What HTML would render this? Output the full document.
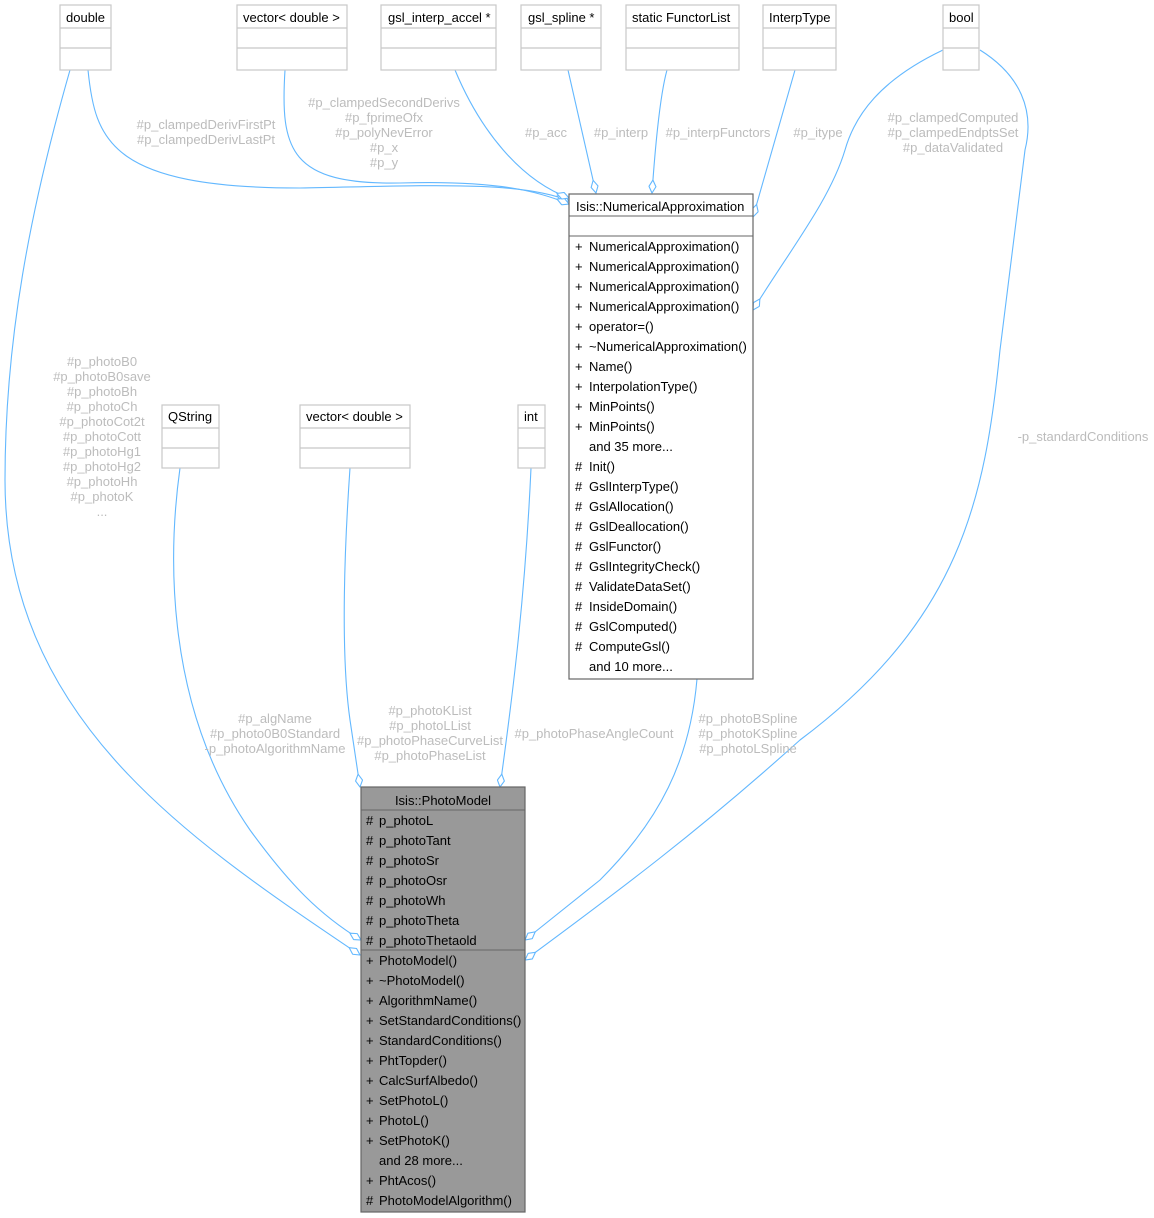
<!DOCTYPE html>
<html><head><meta charset="utf-8"><style>
html,body{margin:0;padding:0;background:#fff;}
svg{display:block;}
text{font-family:"Liberation Sans",Helvetica,sans-serif;font-size:13px;}
.n{fill:#000;}
.l{fill:#bcbcbc;text-anchor:middle;}
.e{fill:none;stroke:#63b8ff;stroke-width:1.1;}
.b{fill:#fff;stroke:#c8c8c8;stroke-width:1.2;}
</style></head><body>
<svg width="1154" height="1218" viewBox="0 0 1154 1218" xmlns="http://www.w3.org/2000/svg">
<defs>
<marker id="d" viewBox="0 0 14 8" refX="13.5" refY="4" markerWidth="14" markerHeight="8" markerUnits="userSpaceOnUse" orient="auto">
<path d="M0.5,4 L7,0.5 L13.5,4 L7,7.5 Z" fill="#fff" stroke="#63b8ff" stroke-width="1.1"/>
</marker>
</defs>

<!-- edges -->
<path class="e" marker-end="url(#d)" d="M70,70 C30,210 5,340 5,480 C5,720 190,840 360,955"/>
<path class="e" marker-end="url(#d)" d="M88,70 C95,140 110,188 300,188 C420,186 520,180 569,201"/>
<path class="e" marker-end="url(#d)" d="M285,70 C280,150 290,185 400,183 C500,180 540,192 569,204"/>
<path class="e" marker-end="url(#d)" d="M455,70 C480,130 520,180 569,198"/>
<path class="e" marker-end="url(#d)" d="M568,70 L596,193"/>
<path class="e" marker-end="url(#d)" d="M667,70 C660,95 655,150 652,193"/>
<path class="e" marker-end="url(#d)" d="M795,70 L753,217"/>
<path class="e" marker-end="url(#d)" d="M943,50 C880,80 855,115 845,150 C830,200 790,250 753,310"/>
<path class="e" marker-end="url(#d)" d="M980,50 C1020,75 1035,110 1025,150 L1000,350 C985,500 960,620 800,740 C700,830 620,890 525,960"/>
<path class="e" marker-end="url(#d)" d="M180,468 C170,540 160,700 250,830 C290,885 320,915 361,940"/>
<path class="e" marker-end="url(#d)" d="M350,468 C345,540 340,650 350,720 L360,787"/>
<path class="e" marker-end="url(#d)" d="M531,468 C525,600 512,700 500,787"/>
<path class="e" marker-end="url(#d)" d="M697,679 C690,760 660,820 600,880 L525,940"/>

<!-- edge labels -->
<text class="l" x="206" y="129">#p_clampedDerivFirstPt</text>
<text class="l" x="206" y="144">#p_clampedDerivLastPt</text>
<text class="l" x="384" y="107">#p_clampedSecondDerivs</text>
<text class="l" x="384" y="122">#p_fprimeOfx</text>
<text class="l" x="384" y="137">#p_polyNevError</text>
<text class="l" x="384" y="152">#p_x</text>
<text class="l" x="384" y="167">#p_y</text>
<text class="l" x="546" y="137">#p_acc</text>
<text class="l" x="621" y="137">#p_interp</text>
<text class="l" x="718" y="137">#p_interpFunctors</text>
<text class="l" x="818" y="137">#p_itype</text>
<text class="l" x="953" y="122">#p_clampedComputed</text>
<text class="l" x="953" y="137">#p_clampedEndptsSet</text>
<text class="l" x="953" y="152">#p_dataValidated</text>
<text class="l" x="1083" y="441">-p_standardConditions</text>
<text class="l" x="102" y="366">#p_photoB0</text>
<text class="l" x="102" y="381">#p_photoB0save</text>
<text class="l" x="102" y="396">#p_photoBh</text>
<text class="l" x="102" y="411">#p_photoCh</text>
<text class="l" x="102" y="426">#p_photoCot2t</text>
<text class="l" x="102" y="441">#p_photoCott</text>
<text class="l" x="102" y="456">#p_photoHg1</text>
<text class="l" x="102" y="471">#p_photoHg2</text>
<text class="l" x="102" y="486">#p_photoHh</text>
<text class="l" x="102" y="501">#p_photoK</text>
<text class="l" x="102" y="516">...</text>
<text class="l" x="275" y="723">#p_algName</text>
<text class="l" x="275" y="738">#p_photo0B0Standard</text>
<text class="l" x="275" y="753">-p_photoAlgorithmName</text>
<text class="l" x="430" y="715">#p_photoKList</text>
<text class="l" x="430" y="730">#p_photoLList</text>
<text class="l" x="430" y="745">#p_photoPhaseCurveList</text>
<text class="l" x="430" y="760">#p_photoPhaseList</text>
<text class="l" x="594" y="738">#p_photoPhaseAngleCount</text>
<text class="l" x="748" y="723">#p_photoBSpline</text>
<text class="l" x="748" y="738">#p_photoKSpline</text>
<text class="l" x="748" y="753">#p_photoLSpline</text>

<!-- simple nodes -->
<g>
<rect class="b" x="60" y="5" width="51" height="65"/><line class="b" x1="60" y1="28" x2="111" y2="28"/><line class="b" x1="60" y1="48" x2="111" y2="48"/><text class="n" x="66" y="22">double</text>
<rect class="b" x="237" y="5" width="110" height="65"/><line class="b" x1="237" y1="28" x2="347" y2="28"/><line class="b" x1="237" y1="48" x2="347" y2="48"/><text class="n" x="243" y="22">vector&lt; double &gt;</text>
<rect class="b" x="381" y="5" width="115" height="65"/><line class="b" x1="381" y1="28" x2="496" y2="28"/><line class="b" x1="381" y1="48" x2="496" y2="48"/><text class="n" x="388" y="22">gsl_interp_accel *</text>
<rect class="b" x="521" y="5" width="80" height="65"/><line class="b" x1="521" y1="28" x2="601" y2="28"/><line class="b" x1="521" y1="48" x2="601" y2="48"/><text class="n" x="528" y="22">gsl_spline *</text>
<rect class="b" x="626" y="5" width="113" height="65"/><line class="b" x1="626" y1="28" x2="739" y2="28"/><line class="b" x1="626" y1="48" x2="739" y2="48"/><text class="n" x="632" y="22">static FunctorList</text>
<rect class="b" x="763" y="5" width="73" height="65"/><line class="b" x1="763" y1="28" x2="836" y2="28"/><line class="b" x1="763" y1="48" x2="836" y2="48"/><text class="n" x="769" y="22">InterpType</text>
<rect class="b" x="943" y="5" width="36" height="65"/><line class="b" x1="943" y1="28" x2="979" y2="28"/><line class="b" x1="943" y1="48" x2="979" y2="48"/><text class="n" x="949" y="22">bool</text>
<rect class="b" x="162" y="405" width="57" height="63"/><line class="b" x1="162" y1="428" x2="219" y2="428"/><line class="b" x1="162" y1="448" x2="219" y2="448"/><text class="n" x="168" y="421">QString</text>
<rect class="b" x="300" y="405" width="110" height="63"/><line class="b" x1="300" y1="428" x2="410" y2="428"/><line class="b" x1="300" y1="448" x2="410" y2="448"/><text class="n" x="306" y="421">vector&lt; double &gt;</text>
<rect class="b" x="518" y="405" width="27" height="63"/><line class="b" x1="518" y1="428" x2="545" y2="428"/><line class="b" x1="518" y1="448" x2="545" y2="448"/><text class="n" x="524" y="421">int</text>
</g>

<!-- NumericalApproximation -->
<rect x="569" y="194" width="184" height="485" fill="#fff" stroke="#666" stroke-width="1.2"/>
<line x1="569" y1="216" x2="753" y2="216" stroke="#666"/>
<line x1="569" y1="236" x2="753" y2="236" stroke="#666"/>
<text class="n" x="576" y="211">Isis::NumericalApproximation</text>
<g class="n">
<text x="575" y="251">+</text><text x="589" y="251">NumericalApproximation()</text>
<text x="575" y="271">+</text><text x="589" y="271">NumericalApproximation()</text>
<text x="575" y="291">+</text><text x="589" y="291">NumericalApproximation()</text>
<text x="575" y="311">+</text><text x="589" y="311">NumericalApproximation()</text>
<text x="575" y="331">+</text><text x="589" y="331">operator=()</text>
<text x="575" y="351">+</text><text x="589" y="351">~NumericalApproximation()</text>
<text x="575" y="371">+</text><text x="589" y="371">Name()</text>
<text x="575" y="391">+</text><text x="589" y="391">InterpolationType()</text>
<text x="575" y="411">+</text><text x="589" y="411">MinPoints()</text>
<text x="575" y="431">+</text><text x="589" y="431">MinPoints()</text>
<text x="589" y="451">and 35 more...</text>
<text x="575" y="471">#</text><text x="589" y="471">Init()</text>
<text x="575" y="491">#</text><text x="589" y="491">GslInterpType()</text>
<text x="575" y="511">#</text><text x="589" y="511">GslAllocation()</text>
<text x="575" y="531">#</text><text x="589" y="531">GslDeallocation()</text>
<text x="575" y="551">#</text><text x="589" y="551">GslFunctor()</text>
<text x="575" y="571">#</text><text x="589" y="571">GslIntegrityCheck()</text>
<text x="575" y="591">#</text><text x="589" y="591">ValidateDataSet()</text>
<text x="575" y="611">#</text><text x="589" y="611">InsideDomain()</text>
<text x="575" y="631">#</text><text x="589" y="631">GslComputed()</text>
<text x="575" y="651">#</text><text x="589" y="651">ComputeGsl()</text>
<text x="589" y="671">and 10 more...</text>
</g>

<!-- PhotoModel -->
<rect x="361" y="787" width="164" height="425" fill="#999" stroke="#666" stroke-width="1.2"/>
<line x1="361" y1="810" x2="525" y2="810" stroke="#666"/>
<line x1="361" y1="950" x2="525" y2="950" stroke="#666"/>
<text class="n" x="443" y="805" text-anchor="middle">Isis::PhotoModel</text>
<g class="n">
<text x="366" y="825">#</text><text x="379" y="825">p_photoL</text>
<text x="366" y="845">#</text><text x="379" y="845">p_photoTant</text>
<text x="366" y="865">#</text><text x="379" y="865">p_photoSr</text>
<text x="366" y="885">#</text><text x="379" y="885">p_photoOsr</text>
<text x="366" y="905">#</text><text x="379" y="905">p_photoWh</text>
<text x="366" y="925">#</text><text x="379" y="925">p_photoTheta</text>
<text x="366" y="945">#</text><text x="379" y="945">p_photoThetaold</text>
<text x="366" y="965">+</text><text x="379" y="965">PhotoModel()</text>
<text x="366" y="985">+</text><text x="379" y="985">~PhotoModel()</text>
<text x="366" y="1005">+</text><text x="379" y="1005">AlgorithmName()</text>
<text x="366" y="1025">+</text><text x="379" y="1025">SetStandardConditions()</text>
<text x="366" y="1045">+</text><text x="379" y="1045">StandardConditions()</text>
<text x="366" y="1065">+</text><text x="379" y="1065">PhtTopder()</text>
<text x="366" y="1085">+</text><text x="379" y="1085">CalcSurfAlbedo()</text>
<text x="366" y="1105">+</text><text x="379" y="1105">SetPhotoL()</text>
<text x="366" y="1125">+</text><text x="379" y="1125">PhotoL()</text>
<text x="366" y="1145">+</text><text x="379" y="1145">SetPhotoK()</text>
<text x="379" y="1165">and 28 more...</text>
<text x="366" y="1185">+</text><text x="379" y="1185">PhtAcos()</text>
<text x="366" y="1205">#</text><text x="379" y="1205">PhotoModelAlgorithm()</text>
</g>
</svg>
</body></html>
